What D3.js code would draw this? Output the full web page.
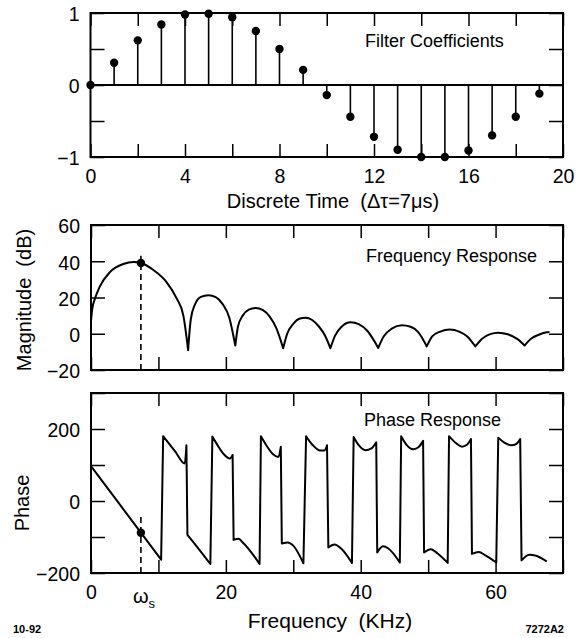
<!DOCTYPE html>
<html>
<head>
<meta charset="utf-8">
<script src="https://d3js.org/d3.v7.min.js"></script>
<style>
  body { margin: 0; background: #fff; }
  text { font-family: 'Liberation Sans', Arial, Helvetica, sans-serif; fill: #000; }
</style>
</head>
<body>
<script>
// ---- data ----
const coefTime  = [0, 1, 2, 3, 4, 5, 6, 7, 8, 9, 10, 11, 12, 13, 14, 15, 16, 17, 18, 19];
const coefValue = [0, 0.31, 0.62, 0.84, 0.98, 0.99, 0.94, 0.75, 0.50, 0.21,
                   -0.14, -0.44, -0.72, -0.90, -1.0, -1.0, -0.91, -0.70, -0.44, -0.12];

// magnitude (kHz, dB), one array per lobe, null to null
const magLobes = [
  [[0, 7], [0.2, 14], [0.6, 19.5], [1.3, 26], [2.8, 34], [4.8, 38.5], [6.3, 39.6], [7.4, 39],
   [9.3, 35], [11.2, 28.5], [12.7, 19.5], [13.7, 10], [14.4, -9]],
  [[14.4, -9], [14.8, 8], [15.4, 16], [16.3, 20.3], [17.4, 21.3], [18.5, 20.2], [19.5, 16.5], [20.5, 9], [21.4, -6.5]],
  [[21.4, -6.5], [21.8, 4], [22.5, 10], [23.4, 13.3], [24.4, 14.2], [25.5, 13], [26.5, 9.5], [27.5, 3], [28.5, -8]],
  [[28.5, -8], [29.1, 0], [30, 5.5], [31, 8.4], [31.8, 8.8], [32.8, 7.6], [33.8, 4], [34.7, -1], [35.5, -8]],
  [[35.5, -8], [36.2, -1], [37.2, 4], [38.5, 6.3], [39.7, 5.3], [41, 1.5], [42.6, -7.8]],
  [[42.6, -7.8], [43.4, -1.5], [44.6, 2.8], [46.1, 4.7], [47.4, 3.9], [48.5, 1], [49.8, -7]],
  [[49.8, -7], [50.6, -1.5], [51.8, 1.2], [53.2, 2.3], [54.6, 1.2], [55.8, -1.5], [57, -7]],
  [[57, -7], [58, -2.7], [59.2, -0.2], [60.4, 0.6], [61.8, -0.3], [63.2, -2.8], [64.3, -6.5]],
  [[64.3, -6.5], [65.3, -2.6], [66.5, -0.4], [67.6, 0.8], [68, 1]]
];

// phase (kHz, deg), continuous pieces; jumps join the end of one to the start of the next
const phaseSegments = [
  [[0, 165], [0, 97]],
  [[0, 97], [7.4, -88], [10.4, -163]],
  [[10.7, 180], [12.5, 137], [13.9, 104], [14.15, 155]],
  [[14.3, -94], [15.2, -115], [17.7, -175]],
  [[18.0, 179], [18.6, 160], [19.6, 132], [20.6, 118], [21.0, 128]],
  [[21.15, -108], [21.9, -105], [22.4, -113], [24.6, -164], [25.0, -175]],
  [[25.2, 180], [26.0, 155], [27.0, 130], [27.8, 122], [28.15, 151]],
  [[28.3, -118], [29.2, -115], [30.0, -124], [31.5, -173]],
  [[31.9, 180], [32.8, 157], [34.0, 140], [34.6, 140], [35.0, 155]],
  [[35.2, -129], [36.1, -121], [37.2, -134], [38.7, -172]],
  [[38.95, 178], [39.7, 155], [40.7, 141], [41.6, 146], [42.3, 163]],
  [[42.45, -143], [43.3, -126], [44.1, -132], [45.8, -171]],
  [[46.0, 180], [46.8, 156], [47.8, 144], [48.6, 150], [49.25, 167]],
  [[49.4, -143], [50.4, -134], [51.4, -146], [52.9, -172]],
  [[53.1, 180], [54.1, 161], [55.0, 151], [55.8, 157], [56.35, 172]],
  [[56.5, -147], [57.5, -142], [58.5, -151], [60.1, -171]],
  [[60.4, 176], [61.3, 162], [62.3, 155], [63.1, 159], [63.65, 172]],
  [[63.85, -165], [65.0, -149], [66.0, -152], [67.6, -168]]
];

const omegaS = 7.4;          // kHz, marked frequency
const omegaSMag = 39;        // dB at omegaS
const omegaSPhase = -88;     // deg at omegaS
const magDashTop = 43;
const phaseDashTop = -40;

// ticks
const coefXTicks = [0, 2, 4, 6, 8, 10, 12, 14, 16, 18, 20];
const coefXLabels = [0, 4, 8, 12, 16, 20];
const coefYTicks = [-1, -0.5, 0, 0.5, 1];
const coefYLabels = [-1, 0, 1];
const freqXTicks = [0, 10, 20, 30, 40, 50, 60, 70];
const freqXLabels = [0, 20, 40, 60];
const magYTicks = [-20, 0, 20, 40, 60];
const phaseYTicks = [-200, -100, 0, 100, 200, 300];
const phaseYLabels = [-200, 0, 200];

// ---- layout ----
const W = 577, H = 638;
const svg = d3.select("body").append("svg").attr("width", W).attr("height", H);

const xTime = d3.scaleLinear().domain([0, 20]).range([90.5, 563]);
const yCoef = d3.scaleLinear().domain([-1, 1]).range([157, 13]);
const xFreq = d3.scaleLinear().domain([0, 70]).range([91, 563]);
const yMag = d3.scaleLinear().domain([-20, 60]).range([370, 225]);
const yPhase = d3.scaleLinear().domain([-200, 300]).range([573, 393]);

const num = d3.format("");
const labelFmt = labels => d => labels && labels.includes(d) ? num(d) : "";

function styleAxis(g) {
  g.attr("font-size", 19.5).attr("font-family", "'Liberation Sans', Arial, Helvetica, sans-serif");
  g.select(".domain").remove();
  g.selectAll(".tick line").attr("stroke", "#000").attr("stroke-width", 1.5);
}

function drawPanel(x, y, xTicks, xLabels, yTicks, yLabels) {
  const [x0, x1] = x.range(), [yb, yt] = y.range();

  svg.append("g").attr("transform", `translate(0,${yb})`)
    .call(d3.axisBottom(x).tickValues(xTicks).tickSizeInner(-13).tickSizeOuter(0)
      .tickPadding(12).tickFormat(labelFmt(xLabels)))
    .call(styleAxis);
  svg.append("g").attr("transform", `translate(0,${yt})`)
    .call(d3.axisTop(x).tickValues(xTicks).tickSizeInner(-13).tickSizeOuter(0).tickFormat(""))
    .call(styleAxis);
  svg.append("g").attr("transform", `translate(${x0},0)`)
    .call(d3.axisLeft(y).tickValues(yTicks).tickSizeInner(-14).tickSizeOuter(0)
      .tickPadding(11).tickFormat(labelFmt(yLabels)))
    .call(styleAxis)
    .selectAll("text").attr("dy", "0.4em");
  svg.append("g").attr("transform", `translate(${x1},0)`)
    .call(d3.axisRight(y).tickValues(yTicks).tickSizeInner(-14).tickSizeOuter(0).tickFormat(""))
    .call(styleAxis);

  svg.append("rect")
    .attr("x", x0).attr("y", yt)
    .attr("width", x1 - x0).attr("height", yb - yt)
    .attr("fill", "none").attr("stroke", "#000").attr("stroke-width", 2);
}

// ---- top: filter coefficients ----
drawPanel(xTime, yCoef, coefXTicks, coefXLabels, coefYTicks, coefYLabels);

svg.append("line")
  .attr("x1", xTime(0)).attr("x2", xTime(20))
  .attr("y1", yCoef(0)).attr("y2", yCoef(0))
  .attr("stroke", "#000").attr("stroke-width", 1.8);

svg.append("g").selectAll("line").data(coefTime).join("line")
  .attr("x1", d => xTime(d)).attr("x2", d => xTime(d))
  .attr("y1", yCoef(0)).attr("y2", (d, i) => yCoef(coefValue[i]))
  .attr("stroke", "#000").attr("stroke-width", 1.6);

svg.append("g").selectAll("circle").data(coefTime).join("circle")
  .attr("cx", d => xTime(d)).attr("cy", (d, i) => yCoef(coefValue[i]))
  .attr("r", 4.2).attr("fill", "#000");

svg.append("text").attr("x", 365).attr("y", 47).attr("font-size", 18).text("Filter Coefficients");
svg.append("text").attr("x", 333).attr("y", 208).attr("font-size", 20)
  .attr("text-anchor", "middle").style("white-space", "pre")
  .text("Discrete Time  (\u0394\u03c4=7\u03bcs)");

// ---- middle: magnitude ----
drawPanel(xFreq, yMag, freqXTicks, null, magYTicks, magYTicks);

const magLine = d3.line().x(d => xFreq(d[0])).y(d => yMag(d[1])).curve(d3.curveMonotoneX);
svg.append("path")
  .attr("d", magLobes.map((lobe, i) => i ? "L" + magLine(lobe).slice(1) : magLine(lobe)).join(""))
  .attr("fill", "none").attr("stroke", "#000").attr("stroke-width", 2).attr("stroke-linejoin", "round");

svg.append("line")
  .attr("x1", xFreq(omegaS)).attr("x2", xFreq(omegaS))
  .attr("y1", yMag(-20)).attr("y2", yMag(magDashTop))
  .attr("stroke", "#000").attr("stroke-width", 1.6).attr("stroke-dasharray", "6,4");
svg.append("circle").attr("cx", xFreq(omegaS)).attr("cy", yMag(omegaSMag)).attr("r", 4.2).attr("fill", "#000");

svg.append("text").attr("x", 366).attr("y", 262).attr("font-size", 18).text("Frequency Response");
svg.append("text").attr("transform", "translate(31,300) rotate(-90)")
  .attr("font-size", 20).attr("text-anchor", "middle").style("white-space", "pre")
  .text("Magnitude  (dB)");

// ---- bottom: phase ----
drawPanel(xFreq, yPhase, freqXTicks, freqXLabels, phaseYTicks, phaseYLabels);

const phaseLine = d3.line().x(d => xFreq(d[0])).y(d => yPhase(d[1])).curve(d3.curveMonotoneX);
svg.append("path")
  .attr("d", phaseSegments.map((s, i) => i ? "L" + phaseLine(s).slice(1) : phaseLine(s)).join(""))
  .attr("fill", "none").attr("stroke", "#000").attr("stroke-width", 2).attr("stroke-linejoin", "round");

svg.append("line")
  .attr("x1", xFreq(omegaS)).attr("x2", xFreq(omegaS))
  .attr("y1", yPhase(-200)).attr("y2", yPhase(phaseDashTop))
  .attr("stroke", "#000").attr("stroke-width", 1.6).attr("stroke-dasharray", "6,4");
svg.append("circle").attr("cx", xFreq(omegaS)).attr("cy", yPhase(omegaSPhase)).attr("r", 4.2).attr("fill", "#000");

svg.append("text").attr("x", 364).attr("y", 426).attr("font-size", 18).text("Phase Response");
svg.append("text").attr("transform", "translate(29,503) rotate(-90)")
  .attr("font-size", 20).attr("text-anchor", "middle").text("Phase");

const ws = svg.append("text").attr("x", xFreq(omegaS) - 8).attr("y", 603).attr("font-size", 20).text("\u03c9");
ws.append("tspan").attr("font-size", 13).attr("dy", 5).text("s");

svg.append("text").attr("x", 330).attr("y", 628).attr("font-size", 21)
  .attr("text-anchor", "middle").style("white-space", "pre").text("Frequency  (KHz)");

svg.append("text").attr("x", 13).attr("y", 633).attr("font-size", 11).attr("font-weight", "bold").text("10-92");
svg.append("text").attr("x", 564).attr("y", 633).attr("font-size", 11).attr("font-weight", "bold")
  .attr("text-anchor", "end").text("7272A2");
</script>
</body>
</html>
